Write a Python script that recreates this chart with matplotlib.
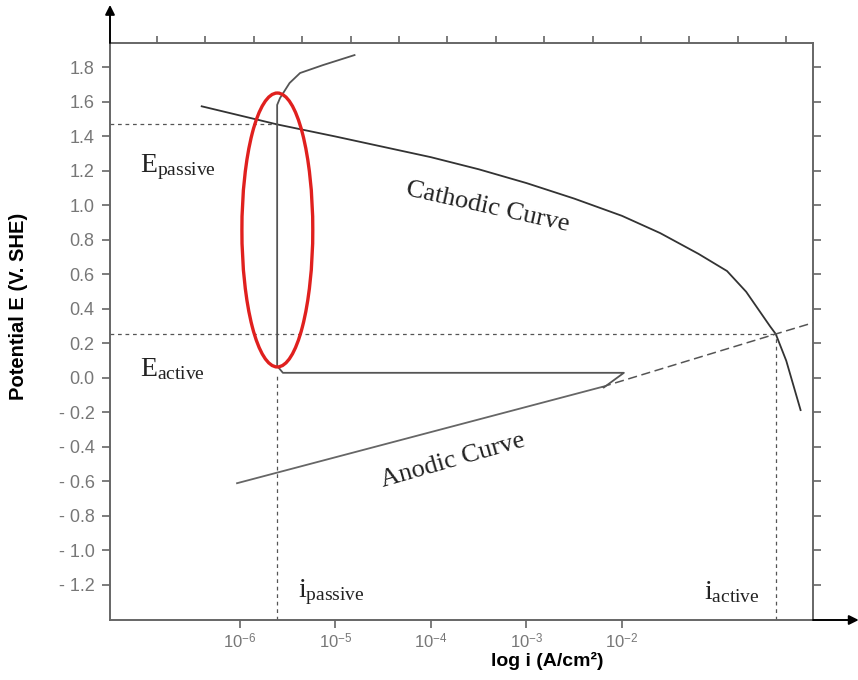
import numpy as np
import matplotlib
matplotlib.use("Agg")
import matplotlib.pyplot as plt
from matplotlib.patches import Ellipse

plt.rcParams['font.family'] = ['Liberation Sans', 'DejaVu Sans']
plt.rcParams['mathtext.fontset'] = 'custom'
plt.rcParams['mathtext.rm'] = 'Liberation Serif'
plt.rcParams['mathtext.it'] = 'Liberation Serif:italic'
plt.rcParams['mathtext.bf'] = 'Liberation Serif:bold'
plt.rcParams['mathtext.sf'] = 'Liberation Sans'

# Data (x values are log10 of current density)
cath_logi = [-6.40, -5.61, -5.0, -4.5, -4.0, -3.5, -3.0, -2.5, -2.0, -1.6,
             -1.2, -0.9, -0.7, -0.55, -0.45, -0.39, -0.28, -0.13]
cath_E = [1.575, 1.47, 1.40, 1.34, 1.28, 1.21, 1.13, 1.04, 0.94, 0.84,
          0.72, 0.62, 0.50, 0.38, 0.30, 0.255, 0.10, -0.186]

pass_logi = [-2.19, -1.98, -5.55, -5.61, -5.61, -5.58, -5.48, -5.37, -5.13, -4.80]
pass_E = [-0.055, 0.03, 0.03, 0.07, 1.583, 1.623, 1.710, 1.768, 1.814, 1.872]

anod_logi = [-6.03, -2.21]
anod_E = [-0.61, -0.052]
anod_ext_logi = [-2.21, -0.39, 0.0]
anod_ext_E = [-0.052, 0.255, 0.32]

E_passive = 1.47
E_active = 0.255
i_passive = -5.61
i_active = -0.39

ell_center = (-5.608, 0.858)
ell_size = (0.742, 1.588)

ytick_vals = [1.8, 1.6, 1.4, 1.2, 1.0, 0.8, 0.6, 0.4, 0.2, 0.0,
              -0.2, -0.4, -0.6, -0.8, -1.0, -1.2]
ytick_labels = ['1.8', '1.6', '1.4', '1.2', '1.0', '0.8', '0.6', '0.4', '0.2', '0.0',
                '- 0.2', '- 0.4', '- 0.6', '- 0.8', '- 1.0', '- 1.2']
xtick_vals = [-6, -5, -4, -3, -2]
xtick_labels = [r'$\mathsf{10}^{\mathsf{-%d}}$' % (-v) for v in xtick_vals]

xmin, xmax = -7.36, 0.0
ymin, ymax = -1.403, 1.942

fig = plt.figure(figsize=(8.58, 6.8), dpi=100)
ax = fig.add_axes([110 / 858, 1 - 620 / 680, 703 / 858, 577 / 680])

spine_col = '#666666'
tick_col = '#777777'

# dashed guide lines
ax.plot([xmin, i_passive], [E_passive, E_passive], color='#555555', lw=0.9, ls=(0, (3, 3)))
ax.plot([xmin, i_active], [E_active, E_active], color='#555555', lw=0.9, ls=(0, (3, 3)))
ax.plot([i_passive, i_passive], [ymin, 0.03], color='#555555', lw=0.9, ls=(0, (3, 3)))
ax.plot([i_active, i_active], [ymin, E_active], color='#555555', lw=0.9, ls=(0, (3, 3)))

# curves
ax.plot(cath_logi, cath_E, color='#333333', lw=1.3)
ax.plot(pass_logi, pass_E, color='#555555', lw=1.3)
ax.plot(anod_logi, anod_E, color='#666666', lw=1.3)
ax.plot(anod_ext_logi, anod_ext_E, color='#555555', lw=1.1, ls=(0, (6, 3)))

ax.add_patch(Ellipse(ell_center, ell_size[0], ell_size[1], fill=False,
                     edgecolor='#e0201e', lw=2.4, zorder=5))

# annotations
ax.text(-7.05, 1.22, r'$\mathrm{E}_{\mathrm{passive}}$', fontsize=20, va='center', color='#222222')
ax.text(-7.05, 0.05, r'$\mathrm{E}_{\mathrm{active}}$', fontsize=20, va='center', color='#222222')
ax.text(-5.39, -1.24, r'$\mathrm{i}_{\mathrm{passive}}$', fontsize=20, va='center', color='#222222')
ax.text(-1.14, -1.24, r'$\mathrm{i}_{\mathrm{active}}$', fontsize=20, va='center', color='#222222')
ax.text(-3.41, 0.99, 'Cathodic Curve', family='Liberation Serif', fontsize=19,
        rotation=-12.5, ha='center', va='center', color='#222222', rotation_mode='anchor')
ax.text(-3.77, -0.48, 'Anodic Curve', family='Liberation Serif', fontsize=19,
        rotation=16, ha='center', va='center', color='#222222', rotation_mode='anchor')

ax.set_xlim(xmin, xmax)
ax.set_ylim(ymin, ymax)
ax.set_yticks(ytick_vals, ytick_labels)
ax.set_xticks(xtick_vals, xtick_labels)
ax.tick_params(axis='both', direction='out', length=6, width=1.2, color=spine_col,
               labelcolor=tick_col)
ax.tick_params(axis='y', right=True, pad=5, labelsize=13)
ax.tick_params(axis='x', pad=3, labelsize=12)

top = ax.secondary_xaxis('top')
top.set_xticks(np.arange(-6.87, 0, 0.507))
top.tick_params(direction='out', length=5, width=1.2, color=spine_col, labeltop=False)
top.spines['top'].set_visible(False)

for s in ax.spines.values():
    s.set_color(spine_col)
    s.set_linewidth(1.4)

# axis arrows
ax.annotate('', xy=(1.065, 0), xytext=(1.0, 0), xycoords='axes fraction',
            arrowprops=dict(arrowstyle='-|>', color='black', lw=1.4, mutation_scale=14,
                            shrinkA=0, shrinkB=0), annotation_clip=False)
ax.annotate('', xy=(0, 1.066), xytext=(0, 1.0), xycoords='axes fraction',
            arrowprops=dict(arrowstyle='-|>', color='black', lw=1.4, mutation_scale=14,
                            shrinkA=0, shrinkB=0), annotation_clip=False)

ax.set_ylabel('Potential E (V. SHE)', fontweight='bold', fontsize=14.5)
ax.yaxis.set_label_coords(-0.116, 0.544)
ax.set_xlabel('log i (A/cm²)', fontweight='bold', fontsize=14)
ax.xaxis.set_label_coords(0.622, -0.055)

fig.savefig('out.png', dpi=100)
